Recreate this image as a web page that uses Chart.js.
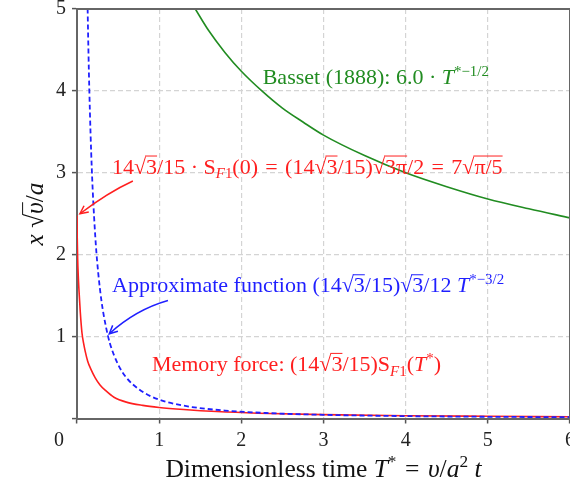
<!DOCTYPE html>
<html>
<head>
<meta charset="utf-8">
<script src="https://cdn.jsdelivr.net/npm/chart.js@4.4.0/dist/chart.umd.min.js"></script>
<style>
  html, body { margin: 0; padding: 0; background: #fff; }
  #wrap { width: 570px; height: 485px; position: relative; }
</style>
</head>
<body>
<div id="wrap"><canvas id="chart"></canvas></div>
<script>
// values: T* on x, x*sqrt(v)/a on y
const memoryT = [0, 0.003, 0.008, 0.015, 0.025, 0.04, 0.06, 0.08, 0.1, 0.13, 0.17, 0.22, 0.28, 0.35, 0.45, 0.6, 0.8, 1.0, 1.3, 1.7, 2.2, 3.0, 4.0, 5.0, 6.0];
const memoryY = [2.48, 2.2, 1.95, 1.75, 1.55, 1.3, 1.05, 0.92, 0.82, 0.7, 0.6, 0.5, 0.41, 0.34, 0.26, 0.2, 0.16, 0.135, 0.11, 0.085, 0.065, 0.047, 0.034, 0.027, 0.021];

const approxT = [0.125, 0.13, 0.14, 0.15, 0.165, 0.18, 0.2, 0.23, 0.26, 0.3, 0.35, 0.4, 0.5, 0.6, 0.75, 0.9, 1.1, 1.4, 1.8, 2.3, 3.0, 4.0, 5.0, 6.0];
const approxY = [5.3, 4.97, 4.45, 4.01, 3.48, 3.05, 2.61, 2.11, 1.76, 1.42, 1.13, 0.92, 0.66, 0.5, 0.36, 0.27, 0.2, 0.14, 0.097, 0.067, 0.045, 0.029, 0.021, 0.016];

const bassetT = [1.44, 1.6, 1.8, 2.0, 2.25, 2.5, 2.75, 3.0, 3.5, 4.0, 4.5, 5.0, 5.5, 6.0];
const bassetY = [5.0, 4.74, 4.47, 4.24, 4.0, 3.79, 3.62, 3.46, 3.21, 3.0, 2.83, 2.68, 2.56, 2.45];

const xTicks = [0, 1, 2, 3, 4, 5, 6];
const yTicks = [0, 1, 2, 3, 4, 5];

const SERIF = '"Liberation Serif", "DejaVu Serif", serif';
const RED = '#ff1f1f';
const BLUE = '#1f1fff';
const GREEN = '#218c21';
const EQ = ' \u200A= \u200A';

function pts(xs, ys) {
  return xs.map((x, i) => ({ x: x, y: ys[i] }));
}

// parts: [text, flags]  i = italic, b = subscript, p = superscript, o = overline
function drawRich(ctx, parts, x, y, size, color, align) {
  const seg = parts.map(([t, f = '']) => {
    const small = f.includes('b') || f.includes('p');
    const fs = small ? size * 0.68 : size;
    const font = (f.includes('i') ? 'italic ' : '') + fs + 'px ' + SERIF;
    ctx.font = font;
    return { t, f, font, w: ctx.measureText(t).width };
  });
  const total = seg.reduce((s, p) => s + p.w, 0);
  let cx = align === 'center' ? x - total / 2 : x;
  ctx.save();
  ctx.fillStyle = color;
  ctx.strokeStyle = color;
  ctx.textAlign = 'left';
  ctx.textBaseline = 'alphabetic';
  for (const p of seg) {
    let dy = 0;
    if (p.f.includes('p')) dy = -size * 0.38;
    if (p.f.includes('b')) dy = size * 0.22;
    ctx.font = p.font;
    ctx.fillText(p.t, cx, y + dy);
    if (p.f.includes('o')) {
      ctx.lineWidth = 1;
      ctx.beginPath();
      ctx.moveTo(cx - 1, y - size * 0.8);
      ctx.lineTo(cx + p.w, y - size * 0.8);
      ctx.stroke();
    }
    cx += p.w;
  }
  ctx.restore();
}

function arrow(ctx, x0, y0, cx, cy, x1, y1, color) {
  ctx.save();
  ctx.strokeStyle = color;
  ctx.lineWidth = 1.5;
  ctx.beginPath();
  ctx.moveTo(x0, y0);
  ctx.quadraticCurveTo(cx, cy, x1, y1);
  ctx.stroke();
  const a = Math.atan2(y1 - cy, x1 - cx);
  const len = 9;
  ctx.beginPath();
  ctx.moveTo(x1 - len * Math.cos(a - 0.45), y1 - len * Math.sin(a - 0.45));
  ctx.lineTo(x1, y1);
  ctx.lineTo(x1 - len * Math.cos(a + 0.45), y1 - len * Math.sin(a + 0.45));
  ctx.stroke();
  ctx.restore();
}

const labels = [
  { x: 2.26, y: 4.08, color: GREEN, parts: [['Basset (1888): 6.0 · '], ['T', 'i'], ['*−1/2', 'p']] },
  { x: 0.426, y: 2.99, color: RED, parts: [['14√'], ['3', 'o'], ['/15 · S'], ['F', 'bi'], ['1', 'b'], ['(0)' + EQ + '(14√'], ['3', 'o'], ['/15)√'], ['3π', 'o'], ['/2' + EQ + '7√'], ['π/5', 'o']] },
  { x: 0.426, y: 1.54, color: BLUE, parts: [['Approximate function (14√'], ['3', 'o'], ['/15)√'], ['3', 'o'], ['/12 '], ['T', 'i'], ['*−3/2', 'p']] },
  { x: 0.912, y: 0.58, color: RED, parts: [['Memory force: (14√'], ['3', 'o'], ['/15)S'], ['F', 'bi'], ['1', 'b'], ['('], ['T', 'i'], ['*', 'p'], [')']] }
];

const arrows = [
  { from: [0.68, 2.9], ctrl: [0.377, 2.76], to: [0.036, 2.5], color: RED },
  { from: [1.107, 1.44], ctrl: [0.718, 1.33], to: [0.393, 1.035], color: BLUE }
];

const decor = {
  id: 'decor',
  afterDatasetsDraw(chart) {
    const { ctx, chartArea: a, scales: { x, y } } = chart;
    // top and right frame
    ctx.save();
    ctx.strokeStyle = '#666';
    ctx.lineWidth = 2;
    ctx.beginPath();
    ctx.moveTo(a.left, a.top);
    ctx.lineTo(a.right, a.top);
    ctx.lineTo(a.right, a.bottom);
    ctx.stroke();
    ctx.restore();

    for (const l of labels) {
      drawRich(ctx, l.parts, x.getPixelForValue(l.x), y.getPixelForValue(l.y), 22, l.color, 'left');
    }
    for (const r of arrows) {
      arrow(ctx,
        x.getPixelForValue(r.from[0]), y.getPixelForValue(r.from[1]),
        x.getPixelForValue(r.ctrl[0]), y.getPixelForValue(r.ctrl[1]),
        x.getPixelForValue(r.to[0]), y.getPixelForValue(r.to[1]), r.color);
    }
  },
  afterDraw(chart) {
    const { ctx, chartArea: a } = chart;
    // shared origin label
    ctx.save();
    ctx.font = '20px ' + SERIF;
    ctx.fillStyle = '#222';
    ctx.textAlign = 'center';
    ctx.textBaseline = 'alphabetic';
    ctx.fillText('0', a.left - 18, a.bottom + 27);
    ctx.restore();

    // axis titles
    drawRich(ctx, [['Dimensionless time '], ['T', 'i'], ['*', 'p'], [EQ], ['υ', 'i'], ['/'], ['a', 'i'], ['2', 'p'], [' '], ['t', 'i']],
      (a.left + a.right) / 2, 477, 25.5, '#111', 'center');
    ctx.save();
    ctx.translate(43, 214);
    ctx.rotate(-Math.PI / 2);
    drawRich(ctx, [['x', 'i'], [' √'], ['υ', 'io'], ['/'], ['a', 'i']], 0, 0, 25.5, '#111', 'center');
    ctx.restore();
  }
};

const axisCommon = {
  type: 'linear',
  grid: {
    color: '#d4d4d4',
    lineWidth: 1.2,
    tickColor: '#555',
    tickWidth: 1.5,
    tickLength: 5,
    tickBorderDash: []
  },
  border: { color: '#666', width: 2, dash: [5, 3] }
};

new Chart(document.getElementById('chart'), {
  type: 'scatter',
  data: {
    datasets: [
      {
        label: 'Basset',
        data: pts(bassetT, bassetY),
        borderColor: GREEN,
        borderWidth: 1.6,
        showLine: true,
        pointRadius: 0,
        cubicInterpolationMode: 'monotone'
      },
      {
        label: 'Approximate function',
        data: pts(approxT, approxY),
        borderColor: BLUE,
        borderWidth: 1.8,
        borderDash: [5, 3],
        showLine: true,
        pointRadius: 0,
        cubicInterpolationMode: 'monotone'
      },
      {
        label: 'Memory force',
        data: pts(memoryT, memoryY),
        borderColor: RED,
        borderWidth: 1.6,
        showLine: true,
        pointRadius: 0,
        cubicInterpolationMode: 'monotone'
      }
    ]
  },
  options: {
    responsive: true,
    maintainAspectRatio: false,
    animation: false,
    layout: { padding: { top: 9, left: 0, right: 0, bottom: 0 } },
    plugins: {
      legend: { display: false },
      tooltip: { enabled: false }
    },
    scales: {
      x: Object.assign({}, axisCommon, {
        min: xTicks[0],
        max: xTicks[xTicks.length - 1],
        ticks: {
          stepSize: 1,
          padding: 5,
          color: '#222',
          font: { family: SERIF, size: 20 },
          callback: v => (v === 0 ? '' : v)
        },
        afterFit(s) {
          s.height = 66.5;
          s.paddingLeft = 0;
          s.paddingRight = 0;
        }
      }),
      y: Object.assign({}, axisCommon, {
        min: yTicks[0],
        max: yTicks[yTicks.length - 1],
        ticks: {
          stepSize: 1,
          padding: 6,
          color: '#222',
          font: { family: SERIF, size: 20 },
          callback: v => (v === 0 ? '' : v)
        },
        afterFit(s) {
          s.width = 77;
          s.paddingTop = 0;
          s.paddingBottom = 0;
        }
      })
    }
  },
  plugins: [decor]
});
</script>
</body>
</html>
